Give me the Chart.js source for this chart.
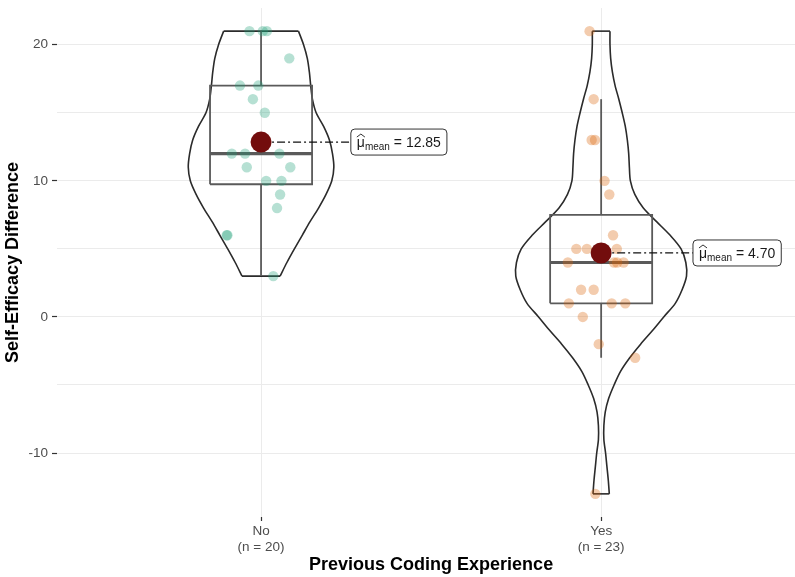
<!DOCTYPE html>
<html>
<head>
<meta charset="utf-8">
<script src="https://cdn.jsdelivr.net/npm/chart.js@4.4.1/dist/chart.umd.min.js"></script>
<style>
  body { margin: 0; background: #fff; }
  #wrap { width: 795px; height: 577px; }
</style>
</head>
<body>
<div id="wrap"><canvas id="chart" width="795" height="577"></canvas></div>
<script>
// groups
const groups = ['No', 'Yes'];
const groupN = [20, 23];

const noValues = [21, 21, 21, 19, 17, 17, 16, 15, 12, 12, 12, 11, 11, 10, 10, 9, 8, 6, 6, 3];
const noJitter = [-0.034, 0.005, 0.017, 0.083, -0.062, -0.008, -0.024, 0.011, -0.086, -0.047, 0.054,
                  -0.042, 0.086, 0.015, 0.060, 0.056, 0.047, -0.099, -0.101, 0.036];
const yesValues = [21, 16, 13, 13, 10, 9, 6, 5, 5, 5, 4, 4, 4, 4, 2, 2, 1, 1, 1, 0, -2, -3, -13];
const yesJitter = [-0.034, -0.022, -0.028, -0.018, 0.010, 0.024, 0.035, -0.073, -0.042, 0.046,
                   -0.098, 0.038, 0.047, 0.066, -0.059, -0.022, -0.095, 0.031, 0.071, -0.054,
                   -0.007, 0.100, -0.017];

// box plot stats
const q1 = [9.75, 1];
const median = [12, 4];
const q3 = [17, 7.5];
const whiskerLow = [3, -3];
const whiskerHigh = [21, 16];
const means = [12.85, 4.70];

// violin half widths (category units) at each level
const noViolinY = [21, 20, 19, 18, 17, 16, 15, 14, 13, 12, 11, 10, 9, 8, 7, 6, 5, 4, 3];
const noViolinW = [0.110, 0.125, 0.136, 0.142, 0.146, 0.151, 0.162, 0.184, 0.201, 0.210, 0.214,
                   0.208, 0.191, 0.169, 0.144, 0.121, 0.098, 0.076, 0.056];
const yesViolinY = [21, 20, 19, 18, 17, 16, 15, 14, 13, 12, 11, 10, 9, 8, 7, 6, 5, 4, 3, 2, 1, 0,
                    -1, -2, -3, -4, -5, -6, -7, -8, -9, -10, -11, -12, -13];
const yesViolinW = [0.026, 0.026, 0.028, 0.033, 0.041, 0.052, 0.062, 0.071, 0.077, 0.081, 0.083,
                    0.086, 0.099, 0.124, 0.163, 0.203, 0.235, 0.249, 0.251, 0.238, 0.218, 0.184,
                    0.151, 0.116, 0.084, 0.057, 0.038, 0.022, 0.012, 0.008, 0.008, 0.013, 0.017,
                    0.021, 0.024];

const yTicks = [-10, 0, 10, 20];

const FONT = "'Liberation Sans', Arial, Helvetica, sans-serif";
const BOX_HALF = 0.15;
const LABEL_GAP = [0.264, 0.27];
const pointColors = ['rgba(27, 158, 119, 0.32)', 'rgba(217, 95, 2, 0.32)'];

Chart.defaults.font.family = FONT;

function lineSet(points, opts) {
    return Object.assign({
        data: points,
        showLine: true,
        pointRadius: 0,
        pointHoverRadius: 0,
        borderColor: '#2b2b2b',
        borderWidth: 1.6,
        tension: 0,
        fill: false,
        order: 4
    }, opts || {});
}

function violin(cat, ys, ws) {
    const left = ys.map((v, i) => ({x: cat - ws[i], y: v}));
    const right = ys.map((v, i) => ({x: cat + ws[i], y: v}));
    const n = ys.length - 1;
    return [
        lineSet(left, {tension: 0.3}),
        lineSet(right, {tension: 0.3}),
        lineSet([left[0], right[0]]),
        lineSet([left[n], right[n]])
    ];
}

function boxplot(i) {
    const c = i + 1;
    const st = {borderColor: '#5a5a5a', borderWidth: 1.8, order: 3};
    return [
        lineSet([{x: c - BOX_HALF, y: q1[i]}, {x: c + BOX_HALF, y: q1[i]}, {x: c + BOX_HALF, y: q3[i]},
                 {x: c - BOX_HALF, y: q3[i]}, {x: c - BOX_HALF, y: q1[i]}], st),
        lineSet([{x: c - BOX_HALF, y: median[i]}, {x: c + BOX_HALF, y: median[i]}],
                {borderColor: '#5a5a5a', borderWidth: 3.2, order: 3}),
        lineSet([{x: c, y: q3[i]}, {x: c, y: whiskerHigh[i]}], st),
        lineSet([{x: c, y: q1[i]}, {x: c, y: whiskerLow[i]}], st)
    ];
}

function jitter(i, values, offsets) {
    return {
        data: values.map((v, k) => ({x: i + 1 + offsets[k], y: v})),
        pointRadius: 5.2,
        pointHoverRadius: 5.2,
        pointBackgroundColor: pointColors[i],
        pointBorderWidth: 0,
        showLine: false,
        order: 2
    };
}

const datasets = [
    ...violin(1, noViolinY, noViolinW),
    ...violin(2, yesViolinY, yesViolinW),
    ...boxplot(0),
    ...boxplot(1),
    jitter(0, noValues, noJitter),
    jitter(1, yesValues, yesJitter),
    ...means.map((m, i) => lineSet([{x: i + 1, y: m}, {x: i + 1 + LABEL_GAP[i], y: m}],
        {borderColor: '#111', borderWidth: 1.3, borderDash: [8, 3, 2, 3], order: 1})),
    {
        data: means.map((m, i) => ({x: i + 1, y: m})),
        pointRadius: 10.5,
        pointHoverRadius: 10.5,
        pointBackgroundColor: '#730d0d',
        pointBorderWidth: 0,
        showLine: false,
        order: 0
    }
];

function roundRect(ctx, x, y, w, h, r) {
    ctx.beginPath();
    ctx.moveTo(x + r, y);
    ctx.lineTo(x + w - r, y);
    ctx.quadraticCurveTo(x + w, y, x + w, y + r);
    ctx.lineTo(x + w, y + h - r);
    ctx.quadraticCurveTo(x + w, y + h, x + w - r, y + h);
    ctx.lineTo(x + r, y + h);
    ctx.quadraticCurveTo(x, y + h, x, y + h - r);
    ctx.lineTo(x, y + r);
    ctx.quadraticCurveTo(x, y, x + r, y);
    ctx.closePath();
}

const meanLabels = {
    id: 'meanLabels',
    afterDraw(chart) {
        const {ctx, scales: {x, y}} = chart;
        ctx.save();
        means.forEach((m, i) => {
            const left = x.getPixelForValue(i + 1 + LABEL_GAP[i]);
            const cy = y.getPixelForValue(m);
            const tail = ' = ' + m.toFixed(2);
            ctx.font = '14px ' + FONT;
            const w1 = ctx.measureText('\u03bc').width;
            const w3 = ctx.measureText(tail).width;
            ctx.font = '10px ' + FONT;
            const w2 = ctx.measureText('mean').width;
            const pad = 6;
            const bw = w1 + w2 + w3 + pad * 2;
            const bh = 26;
            roundRect(ctx, left, cy - bh / 2, bw, bh, 4);
            ctx.fillStyle = '#ffffff';
            ctx.fill();
            ctx.strokeStyle = '#333333';
            ctx.lineWidth = 1;
            ctx.stroke();

            ctx.fillStyle = '#1a1a1a';
            ctx.textBaseline = 'alphabetic';
            ctx.textAlign = 'left';
            const base = cy + 5;
            ctx.font = '14px ' + FONT;
            ctx.fillText('\u03bc', left + pad, base);
            // wide hat over mu
            ctx.beginPath();
            ctx.moveTo(left + pad, base - 10);
            ctx.lineTo(left + pad + w1 / 2, base - 13);
            ctx.lineTo(left + pad + w1, base - 10);
            ctx.strokeStyle = '#1a1a1a';
            ctx.lineWidth = 0.9;
            ctx.stroke();
            ctx.font = '10px ' + FONT;
            ctx.fillText('mean', left + pad + w1, base + 3);
            ctx.font = '14px ' + FONT;
            ctx.fillText(tail, left + pad + w1 + w2, base);
        });
        // x axis title, centred on the panel
        ctx.font = 'bold 18px ' + FONT;
        ctx.fillStyle = '#000000';
        ctx.textAlign = 'center';
        ctx.textBaseline = 'middle';
        ctx.fillText('Previous Coding Experience', x.getPixelForValue(1.5), 565);
        ctx.restore();
    }
};

function noScalePadding(scale) {
    scale.paddingTop = 0;
    scale.paddingBottom = 0;
    scale.paddingLeft = 0;
    scale.paddingRight = 0;
}

new Chart(document.getElementById('chart'), {
    type: 'scatter',
    data: {datasets: datasets},
    options: {
        responsive: false,
        animation: false,
        layout: {autoPadding: false, padding: {top: 8, right: 0, left: 0, bottom: 0}},
        plugins: {
            legend: {display: false},
            tooltip: {enabled: false}
        },
        scales: {
            x: {
                type: 'linear',
                min: 0.4,
                max: 2.57,
                afterBuildTicks(scale) {
                    scale.ticks = groups.map((g, i) => ({value: i + 1}));
                },
                afterFit(scale) {
                    scale.height = 60;
                    noScalePadding(scale);
                },
                border: {display: false},
                grid: {
                    color: '#ebebeb',
                    lineWidth: 1,
                    tickColor: '#333333',
                    tickLength: 4,
                    tickWidth: 1.2
                },
                ticks: {
                    color: '#4d4d4d',
                    font: {size: 13.5},
                    padding: 2,
                    maxRotation: 0,
                    callback(value) {
                        const i = Math.round(value) - 1;
                        return [groups[i], '(n = ' + groupN[i] + ')'];
                    }
                }
            },
            y: {
                type: 'linear',
                min: -14.7,
                max: 22.7,
                afterFit(scale) {
                    scale.width = 57;
                    noScalePadding(scale);
                },
                border: {display: false},
                grid: {
                    color: '#ebebeb',
                    lineWidth: 1,
                    tickLength: 5,
                    tickWidth: 1.2,
                    tickColor: (ctx) => (ctx.tick && yTicks.includes(ctx.tick.value)) ? '#333333' : 'rgba(0,0,0,0)'
                },
                ticks: {
                    stepSize: 5,
                    includeBounds: false,
                    color: '#4d4d4d',
                    font: {size: 13.5},
                    padding: 4,
                    callback(value) {
                        return yTicks.includes(value) ? String(value) : '';
                    }
                },
                title: {
                    display: true,
                    text: 'Self-Efficacy Difference',
                    color: '#000000',
                    font: {size: 18, weight: 'bold'},
                    padding: {top: 2, bottom: 0}
                }
            }
        }
    },
    plugins: [meanLabels]
});
</script>
</body>
</html>
